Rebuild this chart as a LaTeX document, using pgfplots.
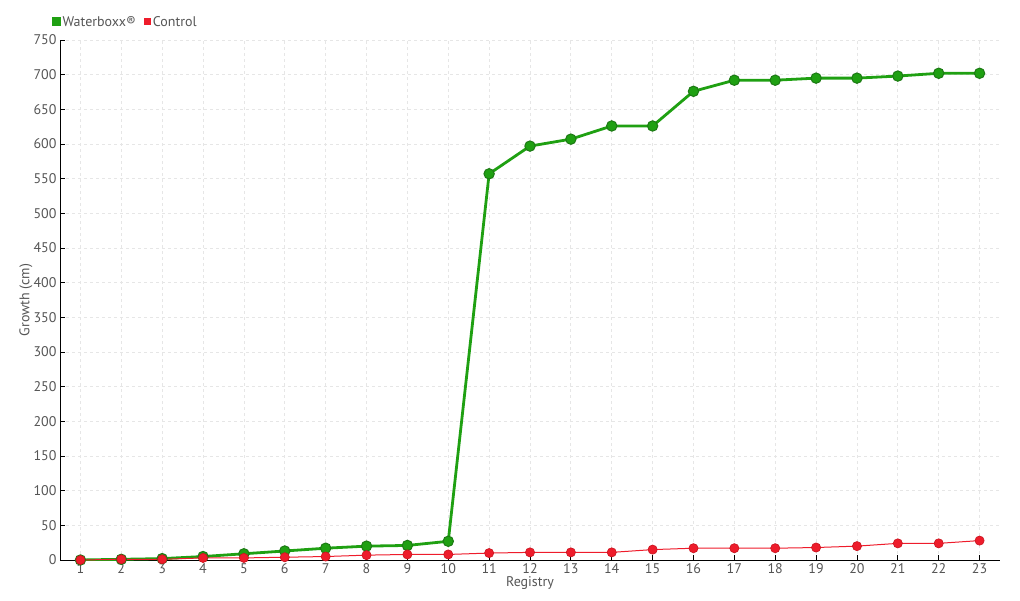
\documentclass[border=0pt]{standalone}
\usepackage{pgfplots}
\pgfplotsset{compat=1.18}
\usepackage{fontspec}
\setmainfont{PT Sans}
\definecolor{wgreen}{HTML}{1FA012}
\definecolor{wgreend}{HTML}{1C7A14}
\definecolor{cred}{HTML}{EE1C2B}
\definecolor{credd}{HTML}{C8141F}
\definecolor{txt}{HTML}{555555}
\definecolor{gridc}{HTML}{E6E6E6}
\begin{document}
\begin{tikzpicture}
\useasboundingbox (-60pt,-40pt) rectangle (960pt,560pt);
\begin{axis}[
  scale only axis, width=940pt, height=520pt,
  xmin=0.5, xmax=23.5, ymin=0, ymax=750,
  xtick={1,...,23}, ytick={0,50,...,750},
  axis x line*=bottom, axis y line*=left,
  axis line style={black, line width=1pt, -},
  tick style={black, line width=0.8pt}, major tick length=5pt,
  grid=major, grid style={gridc, dashed, line width=0.8pt},
  ticklabel style={font=\fontsize{14}{14}\selectfont, text=txt},
  /pgf/number format/assume math mode=true,
  /pgf/number format/1000 sep={},
  xlabel={Registry}, ylabel={Growth (cm)},
  label style={font=\fontsize{14}{14}\selectfont, text=txt},
  xlabel style={at={(axis description cs:0.5,0)}, anchor=north, yshift=-13pt},
  ylabel style={at={(axis description cs:0,0.5)}, anchor=south, xshift=0pt, yshift=24pt},
  legend style={at={(axis description cs:-0.012,1.035)}, anchor=west, draw=none, fill=none,
    legend columns=2, font=\fontsize{14}{14}\selectfont, text=txt,
    /tikz/every even column/.append style={column sep=6pt}},
  legend cell align=left,
  legend image code/.code={\fill[#1] (1pt,-3pt) rectangle (7pt,3pt);},
]
\addplot[wgreen, line width=2.8pt, mark=*, mark size=5.2pt, mark options={fill=wgreen, draw=wgreend, line width=1pt}]
coordinates {(1,0) (2,1) (3,2) (4,5) (5,9) (6,13) (7,17) (8,20) (9,21) (10,27) (11,557) (12,597) (13,607) (14,626) (15,626) (16,676) (17,692) (18,692) (19,695) (20,695) (21,698) (22,702) (23,702)};
\addlegendentry{Waterboxx®}
\addplot[cred, line width=1pt, mark=*, mark size=4.6pt, mark options={fill=cred, draw=credd, line width=0.6pt}]
coordinates {(1,0) (2,1) (3,1) (4,3) (5,3) (6,4) (7,5) (8,7) (9,8) (10,8) (11,10) (12,11) (13,11) (14,11) (15,15) (16,17) (17,17) (18,17) (19,18) (20,20) (21,24) (22,24) (23,28)};
\addlegendentry{Control}
\end{axis}
\end{tikzpicture}
\end{document}
